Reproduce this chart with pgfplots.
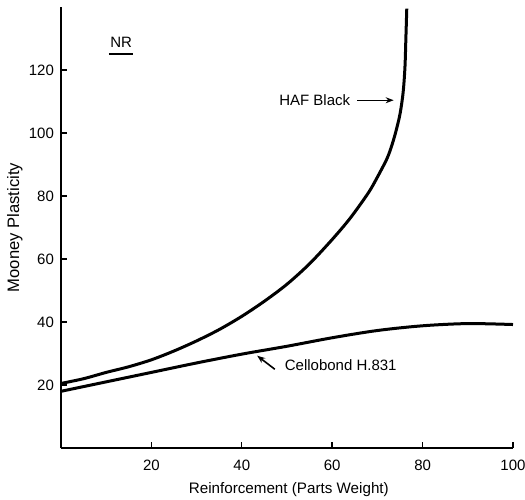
\documentclass[border=0pt]{standalone}
\usepackage{fontspec}
\setmainfont{Liberation Sans}
\usepackage{pgfplots}
\pgfplotsset{compat=1.18}
\usetikzlibrary{arrows.meta}
\begin{document}
\begin{tikzpicture}
\begin{axis}[
    name=ax,
    scale only axis,
    width=226pt, height=220.5pt,
    xmin=0, xmax=100, ymin=0, ymax=140,
    axis x line*=bottom, axis y line*=left,
    axis line style={line width=0.9pt},
    xtick={20,40,60,80,100},
    ytick={20,40,60,80,100,120},
    tick align=inside, major tick length=3pt,
    tick style={line width=0.7pt, black},
    ticklabel style={font=\fontsize{7.5}{9}\selectfont},
    xticklabel style={yshift=-2.5pt},
    /pgf/number format/assume math mode=true,
    xlabel={Reinforcement (Parts Weight)},
    ylabel={Mooney Plasticity},
    xlabel style={font=\fontsize{7.6}{9}\selectfont, at={(axis description cs:0.504,-0.095)}, anchor=center},
    ylabel style={font=\fontsize{8.3}{10}\selectfont, at={(axis description cs:-0.102,0.5)}, anchor=center, rotate=0},
    clip=false,
]
% HAF Black
\addplot[black, line width=1.5pt, smooth] coordinates {
    (0,20.5)(5,22)(10,24)(15,25.8)(20,28)(25,30.8)(30,34)(35,37.6)
    (40,41.8)(45,46.6)(50,52)(55,58.5)(60,66.2)(64,73)(68,81)
    (70,86)(72,91.5)(73,95.2)(74,100)(75,106)(75.7,113)(76.1,121)
    (76.3,130)(76.5,139.5)
};
% Cellobond H.831
\addplot[black, line width=1.5pt, smooth] coordinates {
    (0,18)(10,21)(20,24)(30,27)(40,29.8)(50,32.3)(60,35)(70,37.3)
    (80,38.8)(90,39.5)(100,39.2)
};
\node at (axis cs:13.3,128.7) {\fontsize{7.5}{9}\selectfont NR};
\draw[line width=0.8pt] (axis cs:10.6,125) -- (axis cs:15.9,125);
\node[anchor=east, inner sep=1pt] at (axis cs:64.5,110.4) {\fontsize{7.5}{9}\selectfont HAF Black};
\draw[line width=0.6pt, -{Stealth[open, length=4pt, width=3pt]}] (axis cs:65.5,110.4) -- (axis cs:73.6,110.4);
\node[anchor=west, inner sep=1pt] at (axis cs:49,26.2) {\fontsize{7.5}{9}\selectfont Cellobond H.831};
\draw[line width=0.8pt, -{Stealth[length=4pt, width=3pt]}] (axis cs:47.3,25) -- (axis cs:43.4,29.3);
\end{axis}
\pgfresetboundingbox
\path[use as bounding box] ([xshift=-30.5pt,yshift=-25.5pt]ax.south west) rectangle ([xshift=6pt,yshift=3.5pt]ax.north east);
\end{tikzpicture}
\end{document}
